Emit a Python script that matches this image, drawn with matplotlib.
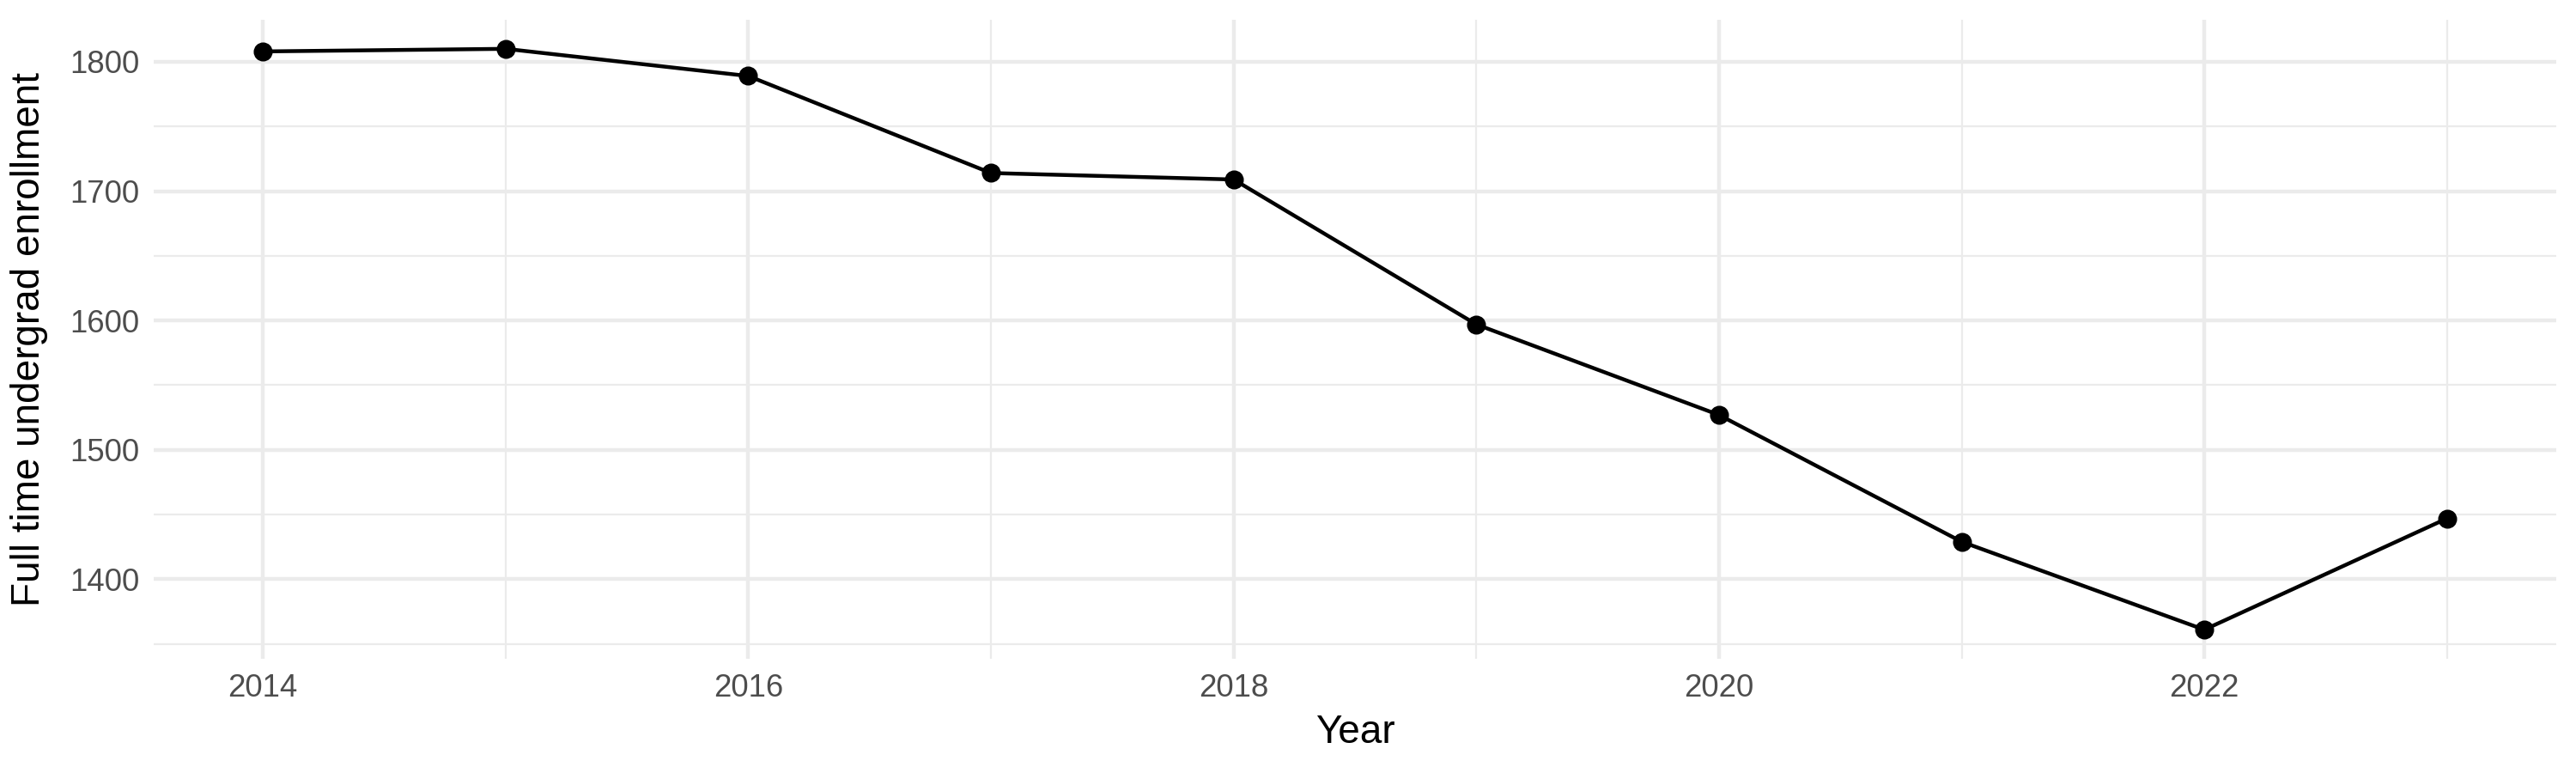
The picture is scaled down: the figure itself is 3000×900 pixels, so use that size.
import matplotlib
matplotlib.use("Agg")
import matplotlib.pyplot as plt
from matplotlib.ticker import MultipleLocator

years = [2014, 2015, 2016, 2017, 2018, 2019, 2020, 2021, 2022, 2023]
enrollment = [1808, 1810, 1789, 1714, 1709, 1597, 1527, 1429, 1361, 1447]

plt.rcParams['font.family'] = ['Liberation Sans', 'DejaVu Sans']

fig = plt.figure(figsize=(10, 3), dpi=300)
ax = fig.add_axes([0.0597, 0.1478, 0.9326, 0.8266])

# ggplot style expansion (5% each side)
xr = max(years) - min(years)
yr = max(enrollment) - min(enrollment)
ax.set_xlim(min(years) - 0.05 * xr, max(years) + 0.05 * xr)
ax.set_ylim(min(enrollment) - 0.05 * yr, max(enrollment) + 0.05 * yr)

ax.xaxis.set_major_locator(MultipleLocator(2))
ax.xaxis.set_minor_locator(MultipleLocator(1))
ax.yaxis.set_major_locator(MultipleLocator(100))
ax.yaxis.set_minor_locator(MultipleLocator(50))

ax.grid(which='major', color='#EBEBEB', linewidth=1.07)
ax.grid(which='minor', color='#EBEBEB', linewidth=0.53)
ax.set_axisbelow(True)

ax.plot(years, enrollment, color='black', linewidth=1.07, marker='o',
        markersize=4.3, zorder=3)

for s in ax.spines.values():
    s.set_visible(False)
ax.tick_params(which='both', length=0)
ax.tick_params(axis='both', labelsize=8.8, labelcolor='#4D4D4D', pad=4)

ax.set_xlabel('Year', fontsize=11, labelpad=3)
ax.set_ylabel('Full time undergrad enrollment', fontsize=11, labelpad=6)

fig.savefig('out.png', dpi=300, facecolor='white')
